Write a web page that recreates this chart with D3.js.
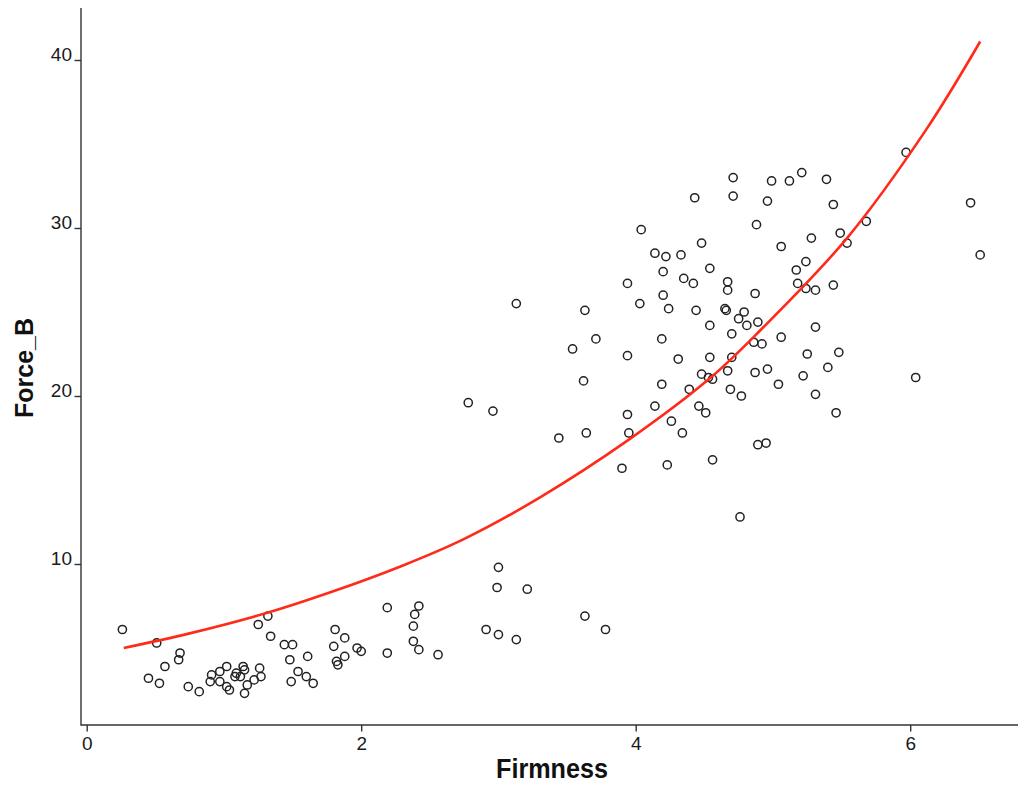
<!DOCTYPE html>
<html>
<head>
<meta charset="utf-8">
<script src="https://cdn.jsdelivr.net/npm/d3@7/dist/d3.min.js"></script>
<style>
  html, body { margin: 0; padding: 0; background: #fff; }
  svg { display: block; }
</style>
</head>
<body>
<svg id="chart" width="1018" height="787"></svg>
<script>
// ---- data ----
const firmness = [
  5.97,6.44,6.51,6.04,4.71,4.71,4.43,4.99,5.12,5.21,5.39,4.96,5.44,4.88,4.04,5.68,4.48,5.28,5.06,5.49,
  5.54,4.14,4.22,4.33,4.54,4.20,4.35,4.42,3.94,4.67,4.67,4.87,4.20,4.03,3.63,4.24,4.44,4.65,4.66,4.79,
  4.75,4.54,4.81,4.89,5.24,5.17,5.18,5.24,5.31,5.44,5.31,4.70,4.86,3.71,3.54,4.19,3.94,4.31,4.54,4.70,
  4.67,4.87,4.48,4.53,4.56,3.62,4.19,4.39,4.69,4.77,4.14,4.46,4.51,3.94,4.26,3.95,4.34,3.64,3.44,4.89,
  4.95,3.90,4.23,4.56,4.76,5.06,4.92,5.25,5.48,4.96,5.40,5.22,5.04,5.31,5.46,3.13,2.78,2.96,
  3.00,2.99,3.21,3.63,3.78,2.91,3.00,3.13,2.19,2.42,2.39,2.38,2.38,2.42,2.19,2.56,
  1.81,1.88,1.80,1.97,2.00,1.88,1.82,1.83,
  1.44,1.50,1.48,1.61,1.54,1.60,1.65,1.49,
  1.25,1.32,1.34,
  0.26,0.51,0.68,0.67,0.57,0.45,0.53,0.74,0.82,
  0.91,0.90,0.97,0.97,1.02,1.02,1.04,1.08,1.09,1.14,1.15,1.12,1.17,1.15,1.22,1.26,1.27
];
const forceB = [
  34.5,31.5,28.4,21.1,33.0,31.9,31.8,32.8,32.8,33.3,32.9,31.6,31.4,30.2,29.9,30.4,29.1,29.4,28.9,29.7,
  29.1,28.5,28.3,28.4,27.6,27.4,27.0,26.7,26.7,26.8,26.3,26.1,26.0,25.5,25.1,25.2,25.1,25.2,25.1,25.0,
  24.6,24.2,24.2,24.4,28.0,27.5,26.7,26.4,26.3,26.6,24.1,23.7,23.2,23.4,22.8,23.4,22.4,22.2,22.3,22.3,
  21.5,21.4,21.3,21.1,21.0,20.9,20.7,20.4,20.4,20.0,19.4,19.4,19.0,18.9,18.5,17.8,17.8,17.8,17.5,17.1,
  17.2,15.7,15.9,16.2,12.8,23.5,23.1,22.5,22.6,21.6,21.7,21.2,20.7,20.1,19.0,25.5,19.6,19.1,
  9.8,8.6,8.5,6.9,6.1,6.1,5.8,5.5,7.4,7.5,7.0,6.3,5.4,4.9,4.7,4.6,
  6.1,5.6,5.1,5.0,4.8,4.5,4.2,4.0,
  5.2,5.2,4.3,4.5,3.6,3.3,2.9,3.0,
  6.4,6.9,5.7,
  6.1,5.3,4.7,4.3,3.9,3.2,2.9,2.7,2.4,
  3.4,3.0,3.6,3.0,3.9,2.7,2.5,3.3,3.5,3.9,3.7,3.3,2.8,2.3,3.1,3.8,3.3
];
// fitted curve, points
const fitX = [0.27, 0.75, 1.31, 1.77, 2.30, 2.74, 3.30, 3.95, 4.54, 4.91, 5.54, 6.12, 6.51];
const fitY = [5.0, 5.87, 7.08, 8.3, 9.9, 11.45, 13.95, 17.4, 21.05, 23.93, 29.4, 35.9, 41.1];
const xTicks = [0, 2, 4, 6];
const yTicks = [10, 20, 30, 40];
const xTitle = "Firmness";
const yTitle = "Force_B";

// ---- drawing ----
const svg = d3.select("#chart");
svg.append("rect").attr("width", 1018).attr("height", 787).attr("fill", "#fff");

const x = d3.scaleLinear().domain([0, 6]).range([86.7, 910.2]);
const y = d3.scaleLinear().domain([10, 40]).range([564, 60]);

const axisColor = "#333";
const textColor = "#1a1a1a";
const font = "'Liberation Sans', Arial, Helvetica, sans-serif";

// axis lines
svg.append("line").attr("x1", 81).attr("x2", 1018).attr("y1", 725).attr("y2", 725)
  .attr("stroke", axisColor).attr("stroke-width", 1.4);
svg.append("line").attr("x1", 81).attr("x2", 81).attr("y1", 8).attr("y2", 725.7)
  .attr("stroke", axisColor).attr("stroke-width", 1.4);

// x axis ticks
const gx = svg.append("g").attr("transform", "translate(0,725)")
  .call(d3.axisBottom(x).tickValues(xTicks).tickSize(6.5).tickSizeOuter(0).tickFormat(d3.format("d")));
gx.select(".domain").remove();
gx.selectAll(".tick line").attr("stroke", axisColor).attr("stroke-width", 1.4);
gx.selectAll(".tick text").attr("y", 25).attr("dy", 0)
  .attr("fill", textColor).style("font-family", font).style("font-size", "19px");

// y axis ticks
const gy = svg.append("g").attr("transform", "translate(81,0)")
  .call(d3.axisLeft(y).tickValues(yTicks).tickSize(6.5).tickSizeOuter(0).tickFormat(d3.format("d")));
gy.select(".domain").remove();
gy.selectAll(".tick line").attr("stroke", axisColor).attr("stroke-width", 1.4);
gy.selectAll(".tick text").attr("x", -9).attr("dy", 0).attr("text-anchor", "end")
  .attr("fill", textColor).style("font-family", font).style("font-size", "19px");

// axis titles
svg.append("text").attr("x", 552).attr("y", 778).attr("text-anchor", "middle")
  .attr("textLength", 112).attr("lengthAdjust", "spacingAndGlyphs")
  .style("font-family", font).style("font-size", "27px").style("font-weight", "bold")
  .attr("fill", "#111").text(xTitle);
svg.append("text").attr("transform", "translate(33,368) rotate(-90)").attr("text-anchor", "middle")
  .attr("textLength", 100).attr("lengthAdjust", "spacingAndGlyphs")
  .style("font-family", font).style("font-size", "26px").style("font-weight", "bold")
  .attr("fill", "#111").text(yTitle);

// points
const n = Math.min(firmness.length, forceB.length);
const pts = d3.range(n).map(i => [firmness[i], forceB[i]]);
svg.append("g").selectAll("circle").data(pts).join("circle")
  .attr("cx", d => x(d[0])).attr("cy", d => y(d[1])).attr("r", 4.1)
  .attr("fill", "none").attr("stroke", "#222").attr("stroke-width", 1.5);

// fitted curve
const fit = fitX.map((v, i) => [v, fitY[i]]);
svg.append("path").datum(fit)
  .attr("d", d3.line().x(d => x(d[0])).y(d => y(d[1])).curve(d3.curveCatmullRom.alpha(0.5)))
  .attr("fill", "none").attr("stroke", "#ff2a1a").attr("stroke-width", 2.6);
</script>
</body>
</html>
